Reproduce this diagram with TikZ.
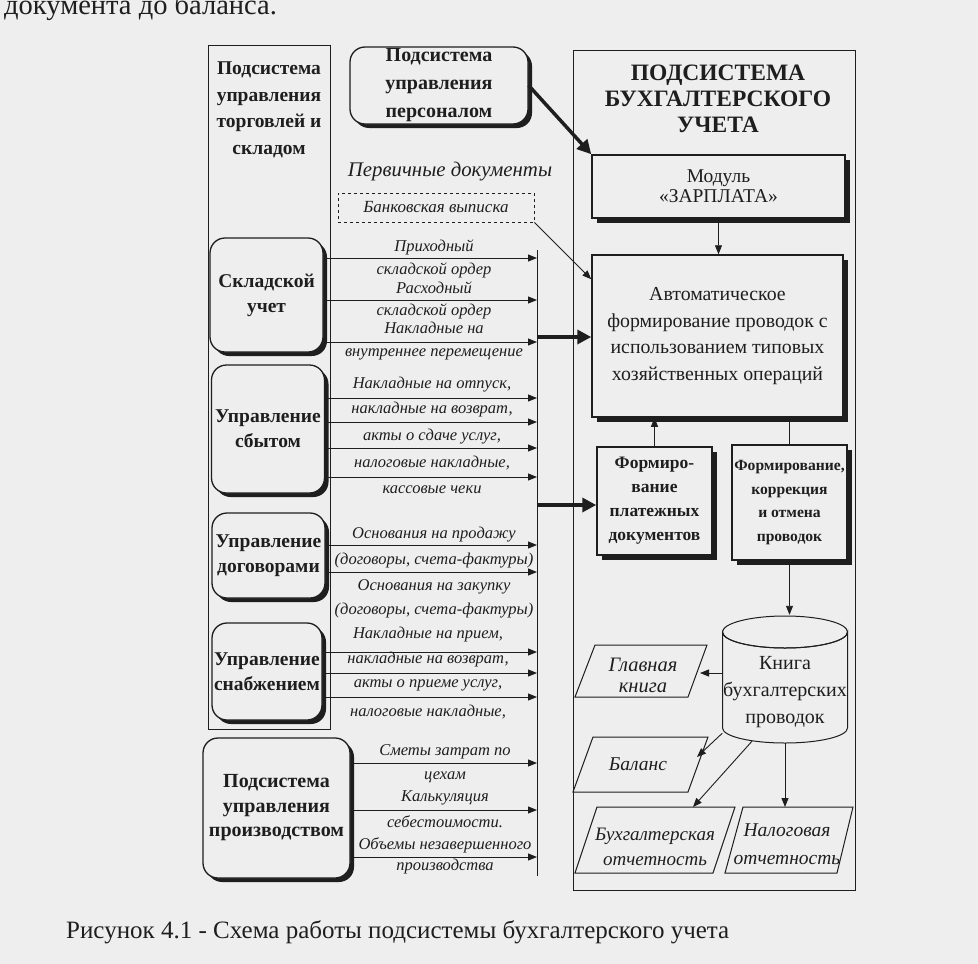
\documentclass[tikz,border=0pt]{standalone}
\usepackage{fontspec}
\setmainfont{Liberation Serif}
\usetikzlibrary{arrows.meta,shadows}
\definecolor{bg}{RGB}{238,238,238}
\definecolor{ink}{RGB}{30,30,30}
\begin{document}
\begin{tikzpicture}[x=1pt,y=-1pt,
  every node/.style={inner sep=1pt, text=ink},
  rbox/.style={draw=ink, line width=1.3pt, rounded corners=15pt, fill=bg, align=center,
    font=\bfseries\fontsize{19.5}{25}\selectfont,
    drop shadow={shadow xshift=4pt, shadow yshift=-4pt, fill=ink, opacity=1}},
  sbox/.style={draw=ink, line width=1.5pt, fill=bg, align=center,
    drop shadow={shadow xshift=5pt, shadow yshift=-5pt, fill=ink, opacity=1}},
  lab/.style={font=\itshape\fontsize{16.5}{20}\selectfont},
  plab/.style={font=\itshape\fontsize{19.5}{21}\selectfont, align=center},
  arr/.style={draw=ink, line width=0.9pt, -{Triangle[length=9pt,width=7pt]}},
  bigarr/.style={draw=ink, line width=3.5pt, -{Triangle[length=14pt,width=14pt]}},
  thinl/.style={draw=ink, line width=0.8pt},
  para/.style={draw=ink, line width=1pt, fill=bg},
]
\useasboundingbox (0,0) rectangle (978,964);
\fill[bg] (0,0) rectangle (978,964);
\begin{scope}
\clip (0,0) rectangle (978,964);
\node[anchor=base west, font=\fontsize{28.5}{28}\selectfont] (toptext) at (3,14) {документа до баланса.};
\end{scope}

% left outer box
\node[draw=ink, line width=1pt, minimum width=122, minimum height=684, anchor=north west] (trade) at (208,45) {};
\node[font=\bfseries\fontsize{19.5}{26.5}\selectfont, align=center] (tradet) at (269,110) {Подсистема\\управления\\торговлей и\\складом};

% personnel
\node[rbox, minimum width=178, minimum height=77, font=\bfseries\fontsize{20}{28}\selectfont] (pers) at (439,85.5) {Подсистема\\управления\\персоналом};

\node[font=\itshape\fontsize{20.8}{21}\selectfont] (prim) at (450,172) {Первичные документы};
\node[draw=ink, dashed, line width=0.8pt, minimum width=196, minimum height=29, font=\itshape\fontsize{17}{18}\selectfont] (bank) at (436,207.5) {Банковская выписка};

% right container
\node[draw=ink, line width=1pt, minimum width=282, minimum height=840, anchor=north west] (acc) at (573,50) {};
\node[font=\bfseries\fontsize{23.5}{26}\selectfont, align=center] (acct) at (718,99) {ПОДСИСТЕМА\\БУХГАЛТЕРСКОГО\\УЧЕТА};

\node[sbox, minimum width=253, minimum height=63, font=\fontsize{19.5}{20}\selectfont] (mod) at (718.5,186.5) {Модуль\\«ЗАРПЛАТА»};
\node[sbox, minimum width=251, minimum height=162, font=\fontsize{19.8}{26.5}\selectfont] (auto) at (717.5,336) {Автоматическое\\формирование проводок с\\использованием типовых\\хозяйственных операций};
\node[sbox, minimum width=115, minimum height=108, font=\bfseries\fontsize{17.5}{24}\selectfont] (pay) at (654.5,501) {Формиро-\\вание\\платежных\\документов};
\node[sbox, minimum width=115, minimum height=115, font=\bfseries\fontsize{15.6}{23.5}\selectfont] (corr) at (789.5,502.5) {Формирование,\\коррекция\\и отмена\\проводок};

% cylinder
\path[fill=bg, draw=ink, line width=1pt] (722.5,632) -- (722.5,728) arc[start angle=180, end angle=0, x radius=62.5, y radius=15] -- (847.5,632) arc[start angle=0, end angle=180, x radius=62.5, y radius=16] -- cycle;
\draw[ink, line width=1pt] (785,632) ellipse[x radius=62.5, y radius=16];
\node[minimum width=125, minimum height=128] (book) at (785,679) {};
\node[font=\fontsize{20}{27}\selectfont, align=center] (bookt) at (785,692) {Книга\\бухгалтерских\\проводок};

% parallelograms
\draw[para] (595,645) -- (707,645) -- (688,697) -- (575,697) -- cycle;
\node[plab, font=\itshape\fontsize{20.5}{21}\selectfont] (gk) at (643,675) {Главная\\книга};
\draw[para] (593,737) -- (708,737) -- (688,792) -- (573,792) -- cycle;
\node[plab] (bal) at (638,764) {Баланс};
\draw[para] (597,807) -- (735,807) -- (713,873) -- (575,873) -- cycle;
\node[plab, font=\itshape\fontsize{19}{25}\selectfont] (bo) at (655,847) {Бухгалтерская\\отчетность};
\draw[para] (743,807) -- (853,807) -- (837,873) -- (725,873) -- cycle;
\node[plab, font=\itshape\fontsize{19.5}{28}\selectfont] (no) at (787,844) {Налоговая\\отчетность};

\coordinate (gkin) at (700,673);
\coordinate (balin) at (697,757);
\coordinate (boin) at (693,807);
\coordinate (noin) at (785,807);

% right connectors
\draw[arr] (mod.south) -- (mod.south |- auto.north);
\draw[arr] (pay.north) -- (pay.north |- auto.south);
\draw[thinl] (corr.north) -- (corr.north |- auto.south);
\draw[arr] (corr.south) -- (corr.south |- book.north);
\draw[arr] (book.west |- gkin) -- (gkin);
\draw[arr] ([yshift=10pt]book.south west) -- (balin);
\draw[arr] ([xshift=-33pt,yshift=2pt]book.south) -- (boin);
\draw[arr] (book.south) -- (noin);

% thick arrows
\draw[bigarr] (pers.east) -- (mod.north west);
\draw[arr] (bank.south east) -- ([yshift=-25pt]auto.north west);

% left boxes
\node[rbox, minimum width=113, minimum height=114] (skl) at (266.5,295) {Складской\\учет};
\node[rbox, minimum width=113, minimum height=128] (sbyt) at (268,429) {Управление\\сбытом};
\node[rbox, minimum width=113, minimum height=85] (dog) at (268.5,555.5) {Управление\\договорами};
\node[rbox, minimum width=110, minimum height=97] (snab) at (267,671.5) {Управление\\снабжением};
\node[rbox, minimum width=147, minimum height=140, font=\bfseries\fontsize{20}{24.5}\selectfont] (proizv) at (276.5,808) {Подсистема\\управления\\производством};

% vertical collector line
\coordinate (vtop) at (537,250);
\coordinate (vbot) at (537,876);
\draw[thinl] (vtop) -- (vbot);

\foreach \yy in {258,300,342} \draw[arr] (skl.east |- 0,\yy) -- (vtop |- 0,\yy);
\foreach \yy in {398,422,448,477} \draw[arr] (sbyt.east |- 0,\yy) -- (vtop |- 0,\yy);
\foreach \yy in {545,572} \draw[arr] (dog.east |- 0,\yy) -- (vtop |- 0,\yy);
\foreach \yy in {652,673,697} \draw[arr] (snab.east |- 0,\yy) -- (vtop |- 0,\yy);
\foreach \yy in {763,810,857} \draw[arr] (proizv.east |- 0,\yy) -- (vtop |- 0,\yy);

\draw[bigarr] (vtop |- 0,337) -- (auto.west |- 0,337);
\draw[bigarr] (vtop |- 0,505) -- (pay.west |- 0,505);

% labels
\node[lab] (a1) at (434,247) {Приходный};
\node[lab] (a2) at (434,270) {складской ордер};
\node[lab] (a3) at (434,288) {Расходный};
\node[lab] (a4) at (434,311) {складской ордер};
\node[lab] (a5) at (434,328) {Накладные на};
\node[lab] (a6) at (434,354) {внутреннее перемещение};

\node[lab] (b1) at (432,385) {Накладные на отпуск,};
\node[lab] (b2) at (432,410) {накладные на возврат,};
\node[lab] (b3) at (432,437) {акты о сдаче услуг,};
\node[lab] (b4) at (432,463) {налоговые накладные,};
\node[lab] (b5) at (432,490) {кассовые чеки};

\node[lab] (c1) at (434,535) {Основания на продажу};
\node[lab] (c2) at (434,561) {(договоры, счета-фактуры)};
\node[lab] (c3) at (434,587) {Основания на закупку};
\node[lab] (c4) at (434,611) {(договоры, счета-фактуры)};

\node[lab] (d1) at (428,635) {Накладные на прием,};
\node[lab] (d2) at (428,660) {накладные на возврат,};
\node[lab] (d3) at (428,685) {акты о приеме услуг,};
\node[lab] (d4) at (428,712) {налоговые накладные,};

\node[lab] (e1) at (445,752) {Сметы затрат по};
\node[lab] (e2) at (445,777) {цехам};
\node[lab] (e3) at (445,798) {Калькуляция};
\node[lab] (e4) at (445,822) {себестоимости.};
\node[lab] (e5) at (445,845) {Объемы незавершенного};
\node[lab] (e6) at (445,867) {производства};

% caption
\node[font=\fontsize{25}{26}\selectfont, anchor=west] (cap) at (65,932) {Рисунок 4.1 - Схема работы подсистемы бухгалтерского учета};
\end{tikzpicture}
\end{document}
